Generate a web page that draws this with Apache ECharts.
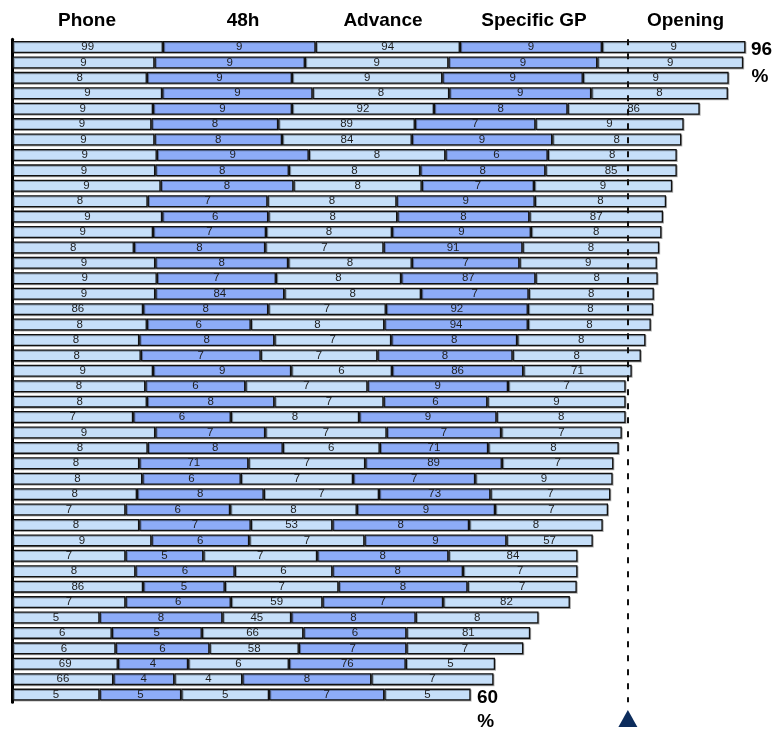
<!DOCTYPE html>
<html>
<head>
<meta charset="utf-8">
<title>Stacked completion bars</title>
<script src="https://cdn.jsdelivr.net/npm/echarts/dist/echarts.min.js"></script>
<style>
  html, body { margin: 0; padding: 0; background: #ffffff; }
  #chart { width: 776px; height: 729px; }
</style>
</head>
<body>
<div id="chart"></div>
<script>
// Row identifiers (top to bottom)
const rows = ['R1','R2','R3','R4','R5','R6','R7','R8','R9','R10','R11','R12','R13','R14','R15',
  'R16','R17','R18','R19','R20','R21','R22','R23','R24','R25','R26','R27','R28','R29','R30',
  'R31','R32','R33','R34','R35','R36','R37','R38','R39','R40','R41','R42','R43'];

// Column headings
const headers = ['Phone', '48h', 'Advance', 'Specific GP', 'Opening'];

// Segment lengths (percentage points) per step
const phone    = [19.7,18.6,17.6,19.6,18.4,18.2,18.6,18.9,18.7,19.4,17.7,19.6,18.4,15.9,18.7,18.9,18.7,17.1,17.6,16.6,16.8,18.4,17.4,17.6,15.8,18.7,17.7,16.6,17.0,16.3,14.8,16.6,18.2,14.8,16.1,17.1,14.8,11.4,13.0,13.5,13.8,13.2,11.4];
const h48      = [20.0,19.7,19.0,19.7,18.2,16.6,16.7,19.9,17.5,17.4,15.7,13.9,14.8,17.2,17.4,15.6,16.9,16.4,13.6,17.7,15.7,18.1,13.1,16.7,12.8,14.4,17.7,14.3,12.9,16.6,13.7,14.6,12.8,10.2,13.0,10.7,13.8,16.1,11.8,12.3,9.2,8.0,10.7];
const advance  = [18.9,18.8,19.7,17.9,18.6,17.9,17.0,17.9,17.2,16.8,16.9,16.9,16.5,15.5,16.2,16.4,17.9,15.4,17.5,15.3,15.3,13.2,16.0,14.3,16.8,15.9,12.7,15.3,14.7,15.1,16.6,10.7,15.1,14.9,12.8,14.9,12.0,9.0,13.3,11.7,13.2,8.9,11.5];
const specific = [18.6,19.5,18.4,18.6,17.5,15.8,18.4,13.4,16.4,14.7,18.1,17.3,18.2,18.2,14.1,17.6,14.1,18.6,18.8,16.5,17.7,17.2,18.4,13.6,18.0,15.0,14.2,17.9,16.0,14.6,18.1,17.9,18.6,17.2,17.1,16.9,15.8,16.3,13.5,14.1,15.3,16.9,15.1];
const opening  = [18.8,19.1,19.1,17.9,17.3,19.4,16.9,16.9,17.2,18.1,17.2,17.5,17.1,17.9,18.0,16.0,16.4,16.4,16.1,16.8,16.8,14.2,15.4,18.1,16.9,15.8,17.1,14.6,18.0,15.7,14.8,17.5,11.3,16.9,15.0,14.3,16.6,16.1,16.2,15.3,11.7,16.0,11.3];

// Text printed inside each segment
const phoneLabels    = ['99','9','8','9','9','9','9','9','9','9','8','9','9','8','9','9','9','86','8','8','8','9','8','8','7','9','8','8','8','8','7','8','9','7','8','86','7','5','6','6','69','66','5'];
const h48Labels      = ['9','9','9','9','9','8','8','9','8','8','7','6','7','8','8','7','84','8','6','8','7','9','6','8','6','7','8','71','6','8','6','7','6','5','6','5','6','8','5','6','4','4','5'];
const advanceLabels  = ['94','9','9','8','92','89','84','8','8','8','8','8','8','7','8','8','8','7','8','7','7','6','7','7','8','7','6','7','7','7','8','53','7','7','6','7','59','45','66','58','6','4','5'];
const specificLabels = ['9','9','9','9','8','7','9','6','8','7','9','8','9','91','7','87','7','92','94','8','8','86','9','6','9','7','71','89','7','73','9','8','9','8','8','8','7','8','6','7','76','8','7'];
const openingLabels  = ['9','9','9','8','86','9','8','8','85','9','8','87','8','8','9','8','8','8','8','8','8','71','7','9','8','7','8','7','9','7','7','8','57','84','7','7','82','8','81','7','5','7','5'];

// Totals called out beside the first and last rows, and the target marker
const topTotal = 96;
const bottomTotal = 60;
const target = 80.6;

const LIGHT = '#C6DFF9';
const MEDIUM = '#8DACF8';
const FONT = '"Liberation Sans", Arial, Helvetica, sans-serif';

const steps = [
  { name: headers[0], values: phone,    labels: phoneLabels,    color: LIGHT },
  { name: headers[1], values: h48,      labels: h48Labels,      color: MEDIUM },
  { name: headers[2], values: advance,  labels: advanceLabels,  color: LIGHT },
  { name: headers[3], values: specific, labels: specificLabels, color: MEDIUM },
  { name: headers[4], values: opening,  labels: openingLabels,  color: LIGHT }
];

const chart = echarts.init(document.getElementById('chart'), null, { renderer: 'canvas' });

const series = steps.map((s, i) => {
  const item = {
    type: 'bar',
    name: s.name,
    stack: 'total',
    barWidth: 12,
    data: s.values,
    itemStyle: {
      color: s.color,
      borderColor: '#111111',
      borderWidth: 1.3,
      shadowColor: 'rgba(0,0,0,0.3)',
      shadowOffsetX: 1,
      shadowOffsetY: 1,
      shadowBlur: 0
    },
    label: {
      show: true,
      position: 'inside',
      formatter: (p) => s.labels[p.dataIndex],
      fontSize: 11.5,
      fontFamily: FONT,
      color: '#1e1e1e'
    },
    emphasis: { disabled: true },
    silent: true
  };
  if (i === steps.length - 1) {
    item.markLine = {
      silent: true,
      symbol: ['none', 'none'],
      animation: false,
      label: { show: false },
      lineStyle: { color: '#111111', width: 2, type: [6, 8] },
      data: [{ xAxis: target }]
    };
  }
  return item;
});

chart.setOption({
  animation: false,
  backgroundColor: '#ffffff',
  grid: { left: 12.5, top: 39.3, width: 764, height: 663 },
  xAxis: {
    type: 'value',
    min: 0,
    max: 100,
    show: false
  },
  yAxis: {
    type: 'category',
    data: rows,
    inverse: true,
    offset: 1,
    axisLine: { show: true, lineStyle: { color: '#000000', width: 3 } },
    axisTick: { show: false },
    axisLabel: { show: false },
    splitLine: { show: false }
  },
  series: series
});

// Annotations placed from the chart's own coordinate system
const firstEnd = chart.convertToPixel({ gridIndex: 0 }, [topTotal, rows[0]]);
const lastEnd = chart.convertToPixel({ gridIndex: 0 }, [bottomTotal, rows[rows.length - 1]]);
const targetX = chart.convertToPixel({ xAxisIndex: 0 }, target);

const headerX = [87, 243, 383, 534, 685.5];
const bigText = (text, x, y) => ({
  type: 'text',
  x: x,
  y: y,
  silent: true,
  style: { text: text, font: 'bold 19px ' + FONT, fill: '#000000', align: 'center', verticalAlign: 'middle' }
});

const graphics = headers.map((h, i) => bigText(h, headerX[i], 20.5));
graphics.push(bigText(String(topTotal), firstEnd[0] + 16, firstEnd[1] + 2.5));
graphics.push(bigText('%', firstEnd[0] + 14.5, firstEnd[1] + 29.5));
graphics.push(bigText(String(bottomTotal), lastEnd[0] + 17, lastEnd[1] + 3));
graphics.push(bigText('%', lastEnd[0] + 15, lastEnd[1] + 27.5));
graphics.push({
  type: 'polygon',
  silent: true,
  shape: { points: [[targetX - 9.5, 727], [targetX + 9.5, 727], [targetX, 710]] },
  style: { fill: '#0C2C5C' }
});

chart.setOption({ graphic: graphics });
</script>
</body>
</html>
